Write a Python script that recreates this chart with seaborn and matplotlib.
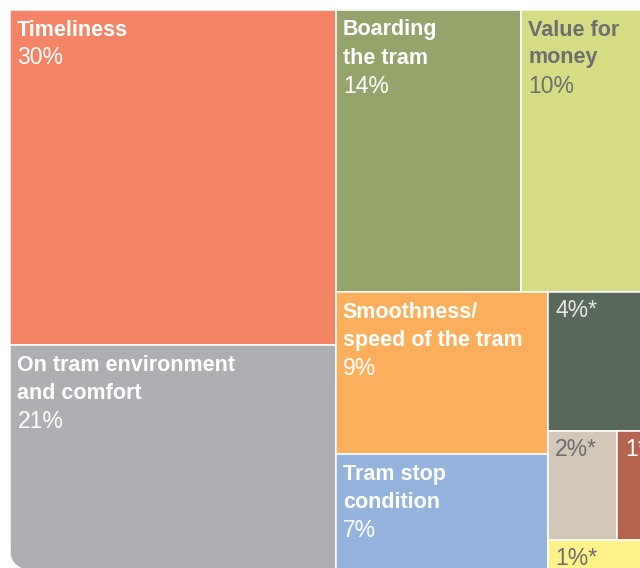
import matplotlib
matplotlib.use("Agg")
import matplotlib.pyplot as plt
from matplotlib.patches import Rectangle, PathPatch
from matplotlib.path import Path
import seaborn as sns

# --- Data (shares estimated from the tile areas, labels as printed) ---
names = ["Timeliness", "On tram environment\nand comfort", "Boarding\nthe tram",
         "Value for\nmoney", "Smoothness/\nspeed of the tram", "Tram stop\ncondition",
         "", "", "", ""]
pct_labels = ["30%", "21%", "14%", "10%", "9%", "7%", "4%*", "2%*", "1*", "1%*"]
shares = [30.3, 20.3, 14.5, 10.4, 9.5, 6.8, 4.1, 2.1, 1.1, 0.9]
fill_colors = ["#F58466", "#AEAFB3", "#95A46A", "#D6DC84", "#FBAF5D",
               "#94B4DD", "#58685A", "#D3C7B8", "#B5654F", "#FFF28A"]
text_colors = ["white", "white", "white", "#6D6E71", "white",
               "white", "#E6E6E6", "#6D6E71", "white", "#6D6E71"]

# nesting of the treemap: "h" = side by side, "v" = stacked
layout_tree = ("h", [("v", [0, 1]),
                     ("v", [("h", [2, 3]),
                            ("h", [("v", [4, 5]),
                                   ("v", [6, ("h", [7, 8]), 9])])])])

# --- Style setup ---
sns.set_theme(style="white")
plt.rcParams['font.family'] = ['Liberation Sans', 'DejaVu Sans']


def node_size(node):
    if isinstance(node, int):
        return shares[node]
    return sum(node_size(c) for c in node[1])


def place(node, x, y, w, h, out):
    if isinstance(node, int):
        out[node] = (x, y, w, h)
        return
    kind, kids = node
    total = node_size(node)
    for k in kids:
        f = node_size(k) / total
        if kind == "h":
            place(k, x, y, w * f, h, out)
            x += w * f
        else:
            place(k, x, y, w, h * f, out)
            y += h * f


# canvas in pixel-like units, partly running off the right/bottom of the figure
W, H = 644, 560
boxes = {}
place(layout_tree, 0, 0, W, H, boxes)

fig = plt.figure(figsize=(6.4, 5.68), dpi=100)
ax = fig.add_axes([10 / 640, (568 - 10 - H) / 568, W / 640, H / 568])
ax.set_xlim(0, W)
ax.set_ylim(H, 0)
ax.set_axis_off()

# outline with a rounded bottom-left corner
r, k = 20, 0.552
verts = [(0, 0), (W, 0), (W, H), (r, H), (r * (1 - k), H), (0, H - r * (1 - k)),
         (0, H - r), (0, 0)]
codes = [Path.MOVETO, Path.LINETO, Path.LINETO, Path.LINETO,
         Path.CURVE4, Path.CURVE4, Path.CURVE4, Path.CLOSEPOLY]
clip = PathPatch(Path(verts, codes), transform=ax.transData)

for i in range(len(shares)):
    x, y, w, h = boxes[i]
    rect = Rectangle((x, y), w, h, facecolor=fill_colors[i], edgecolor="white", lw=1.1)
    ax.add_patch(rect)
    rect.set_clip_path(clip)

    lines = [s for s in names[i].split("\n") if s]
    for j, line in enumerate(lines):
        ax.annotate(line, xy=(x, y), xytext=(7, -(25.5 + 28 * j)),
                    textcoords="offset pixels", va="baseline", ha="left",
                    fontsize=15.5, fontweight="bold", color=text_colors[i])
    ax.annotate(pct_labels[i], xy=(x, y), xytext=(7.5, -(25 + 28.8 * len(lines))),
                textcoords="offset pixels", va="baseline", ha="left",
                fontsize=16.5, color=text_colors[i])

plt.savefig("out.png", dpi=100)
